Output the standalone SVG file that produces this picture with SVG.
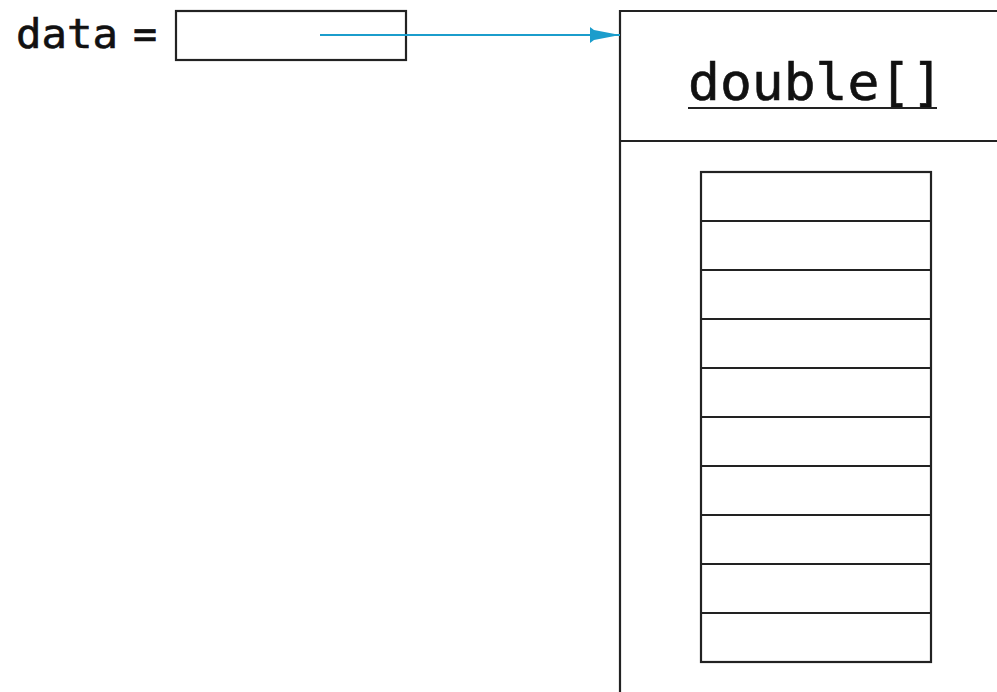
<svg xmlns="http://www.w3.org/2000/svg" width="997" height="692" viewBox="0 0 997 692">
<style>
.box{fill:#fff;stroke:#222;stroke-width:2.2}
.ln{stroke:#222;stroke-width:2.2;fill:none}
.mono{font-family:"DejaVu Sans Mono","Liberation Mono",monospace;fill:#111;stroke:#111;stroke-width:0.6}
.conn{stroke:#1b9dcc;stroke-width:2;fill:none}
</style>
<defs>
<marker id="ah" markerUnits="userSpaceOnUse" markerWidth="34" markerHeight="24" refX="32" refY="12" orient="auto">
<path d="M2,4 L6,7 L32,12 L6,17 L2,20 Z" fill="#1b9dcc"/>
</marker>
</defs>
<rect width="997" height="692" fill="#fff"/>
<g id="data-var">
<text class="mono" x="16" y="48" font-size="40" textLength="102" lengthAdjust="spacingAndGlyphs">data</text>
<text class="mono" x="133" y="48" font-size="40">=</text>
<rect class="box" x="176" y="11" width="230" height="49"/>
</g>
<g id="array-obj">
<path class="ln" d="M620,692 V11 H997 M620,141 H997"/>
<text class="mono" x="688" y="100" font-size="52" textLength="255" lengthAdjust="spacingAndGlyphs">double[]</text>
<line class="ln" x1="688" y1="108" x2="937" y2="108"/>
<rect class="box" x="701" y="172" width="230" height="490"/>
<path class="ln" d="M701,221H931M701,270H931M701,319H931M701,368H931M701,417H931M701,466H931M701,515H931M701,564H931M701,613H931"/>
</g>
<g id="connectors">
<line class="conn" x1="320" y1="35" x2="620" y2="35" marker-end="url(#ah)"/>
</g>
</svg>
